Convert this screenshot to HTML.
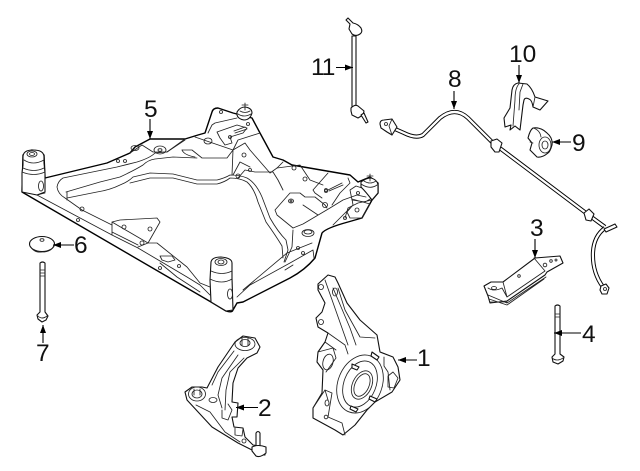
<!DOCTYPE html>
<html><head><meta charset="utf-8"><style>
html,body{margin:0;padding:0;background:#fff}
svg{display:block}
text{font-family:"Liberation Sans",sans-serif;font-size:24.500px;fill:#111}
.l{fill:#fff;stroke:#111;stroke-width:1.100;stroke-linejoin:round;stroke-linecap:round}
.t{fill:none;stroke:#222;stroke-width:.85;stroke-linejoin:round;stroke-linecap:round}
.o{fill:#fff;stroke:#000;stroke-width:1.400;stroke-linejoin:round}
.a{stroke:#000;stroke-width:1.100;fill:none}
</style></head><body>
<svg width="640" height="471" viewBox="0 0 640 471" xmlns="http://www.w3.org/2000/svg">
<defs><marker id="h" viewBox="0 0 8 6" refX="8" refY="3" markerWidth="8" markerHeight="6" markerUnits="userSpaceOnUse" orient="auto"><path d="M0 0L8 3L0 6z" fill="#000"/></marker></defs>

<!-- subframe outline -->
<path class="o" d="M22 192L211 302L226 311Q232 313 233 310L237 303L243 302L290 278Q305 270 315 258L322 233Q326 228 348 222L362 218L372 200L378 193L378 183L370 177L358 182L350 175L292 165L283 160L273 157L260 133L252 118L233 113L218 108Q213 108 212 112L205 133L198 135L185 139L150 139L135 147L130 153L107 163L45 178L44 155L32 150L23 155Z"/>
<!-- frame inner -->
<path class="t" d="M37 195L45 193M37 195L112 235L138 248L160 261L187 277L200 285L210 295"/>
<path class="t" d="M57 187Q58 181 63 178L117 167L137 162Q150 158 155 153L167 152L185 140M57 187Q58 194 65 198L82 210L112 225"/>
<path class="t" d="M66 192L100 182L120 177Q135 170 143 165Q148 160 155 159L173 157L197 158"/>
<path class="t" d="M67 192L67 200M67 198L97 192Q110 190 120 185Q128 182 133 177L150 173L173 174L197 180L217 180Q225 178 230 175Q240 175 247 178Q256 183 262 197L270 218Q278 232 286 240L288 250L284 262"/>
<path class="t" d="M130 183L150 178L173 178L197 184L217 184Q225 182 230 178Q240 178 247 182Q254 188 258 202L266 222Q276 236 282 246L283 258"/>
<!-- bracket -->
<path class="t" d="M112 235L112 222L120 220L157 218L160 222L152 236L148 243L157 243L187 267L200 283L210 287M112 222L148 243L138 247M112 232L138 245"/>
<path class="t" d="M160 263L177 277L200 292"/>
<path class="t" d="M160 256L172 256L175 260L168 262L162 260Z"/>
<!-- top centre -->
<path class="t" d="M142 145L153 152L167 152L185 139M130 153L142 145"/>
<path class="t" d="M195 137L233 150L232 175M182 150L192 150L202 158L227 158L233 150L245 143L250 150L270 173L277 168L283 162M233 150L238 140L260 133"/>
<path class="t" d="M182 150Q184 155 195 157"/>
<path class="t" d="M208 133L212 125L215 123L237 118M217 132L237 125L247 128L243 133L230 137L232 143L225 145L220 138Z"/>
<path class="t" d="M238 178L245 170L255 172L273 172L278 180L283 190M233 175L240 162L250 167"/>
<path class="t" d="M277 168L300 165L310 180L323 185M328 173L313 190L315 193L322 198M348 178L350 183L340 193L332 205"/>
<path class="t" d="M275 210L290 193L300 193L305 197L315 197L325 205L327 208M275 210L277 215L293 228"/>
<path class="t" d="M303 205L318 215M293 228L303 224L330 208L343 200L357 195L366 197"/>
<path class="t" d="M293 230L292 247L285 262M293 265L285 270M313 250L314 258M243 290L287 253L312 243M237 297L250 285L290 263L313 250"/>
<path class="t" d="M350 190L356 186L362 188L372 198L365 202L352 200ZM345 218L348 208L358 203L372 200M333 225L350 208"/>
<ellipse class="t" cx="308" cy="233" rx="6" ry="3.500"/><ellipse class="t" cx="308" cy="232" rx="4" ry="2"/>
<ellipse class="t" cx="135" cy="148" rx="4" ry="2.500"/><ellipse class="t" cx="160" cy="150" rx="6" ry="4"/><ellipse class="t" cx="160" cy="150" rx="2" ry="1.300"/>
<ellipse class="t" cx="208" cy="141" rx="4" ry="3"/><ellipse class="t" cx="291" cy="201" rx="2.500" ry="2"/><ellipse class="t" cx="291" cy="201" rx="1" ry="1"/>
<circle class="t" cx="118" cy="161" r="1.500"/><circle class="t" cx="125" cy="161" r="1.500"/><circle class="t" cx="82" cy="209" r="2"/><circle class="t" cx="78" cy="220" r="1.500"/><circle class="t" cx="124" cy="227" r="2"/><circle class="t" cx="150" cy="229" r="2"/><circle class="t" cx="142" cy="243" r="2"/><circle class="t" cx="179" cy="266" r="1.500"/><circle class="t" cx="160" cy="268" r="1.500"/><circle class="t" cx="298" cy="248" r="1.500"/><circle class="t" cx="303" cy="253" r="1.500"/><circle class="t" cx="294" cy="168" r="2"/><circle class="t" cx="305" cy="179" r="2"/><circle class="t" cx="244" cy="155" r="2"/><circle class="t" cx="238" cy="176" r="2"/><circle class="t" cx="250" cy="170" r="1.500"/><circle class="t" cx="221" cy="112" r="1.500"/><circle class="t" cx="230" cy="137" r="1.500"/><circle class="t" cx="248" cy="124" r="1.500"/><circle class="t" cx="325" cy="205" r="2.500"/><circle class="t" cx="326" cy="190" r="1.500"/>
<path class="t" d="M234 131L245 127M235 133L247 129M328 190L342 183M329 191L343 185"/><circle class="t" cx="326" cy="191" r="1.500"/>

<!-- left bush -->
<path class="l" d="M23 157Q23 150 33 150Q44 150 44 157L44 163L45 173L45 192L37 195L22 192L22 173L23 165Z"/>
<ellipse class="t" cx="32" cy="154" rx="5" ry="3"/><ellipse class="t" cx="32" cy="154" rx="2.500" ry="1.500"/>
<path class="t" d="M24 160Q33 166 44 160M23 168Q34 173 44 168M22 172Q34 177 45 172"/><ellipse class="t" cx="41" cy="186" rx="2.500" ry="5"/>
<!-- rear mount -->
<path class="l" d="M237 112Q240 107 245 107Q252 108 252 113Q250 120 244 120Q238 119 237 115Z"/>
<path class="t" d="M245 103L245 110M242 105H248M240 111Q245 114 250 111M238 114Q244 118 251 114"/>
<!-- right mount -->
<path class="l" d="M361 182Q366 178 371 178Q378 180 378 186L378 193L372 200Q366 192 361 187Z"/>
<path class="t" d="M370 174L370 181M367 176H373M364 181Q370 185 376 181M361 184Q370 190 377 185M352 199L370 204L362 218L350 218L347 212L353 205Z"/>
<circle class="t" cx="358" cy="193" r="1.500"/><circle class="t" cx="357" cy="210" r="2"/><circle class="t" cx="345" cy="218" r="1.500"/>
<!-- front bush -->
<path class="l" d="M211 262Q212 257 221 257Q232 258 232 263L232 278L233 310L226 311L211 302L210 280Z"/>
<ellipse class="t" cx="221" cy="262" rx="6" ry="3.500"/><ellipse class="t" cx="221" cy="262" rx="3" ry="2"/>
<path class="t" d="M211 271Q222 276 232 271M210 279Q222 285 232 279"/><ellipse class="t" cx="230" cy="294" rx="2.500" ry="5"/>

<!-- washer 6 -->
<ellipse class="l" cx="42" cy="244" rx="12.500" ry="7.500"/><path class="t" d="M30 246Q34 253 42 252Q52 252 54 245"/><ellipse class="t" cx="42" cy="240" rx="2" ry="1.300"/>
<!-- bolt 7 -->
<path class="l" d="M40 263L40 312L37 315L38 319L42 322L46 320L48 316L45 312L45 263Q42.500 261 40 263Z"/>
<path class="t" d="M40 270H45M40 273H45M40 276H45M38 316Q42 320 47 316"/>
<!-- bolt 4 -->
<path class="l" d="M555 306L555 354L552 357L553 362L558 364L563 361L564 357L560 354L560 306Q557.500 304 555 306Z"/>
<path class="t" d="M555 314H560M555 317H560M552 358Q557 362 563 358"/>

<!-- link 11 -->
<path class="l" d="M352 36H356V108H352Z"/>
<path class="l" d="M346 20L348 18L353 23Q358 24 361 28Q363 32 360 34Q356 37 352 34L349 29L350 24Z"/>
<path class="l" d="M351 108Q355 104 358 106L364 111L363 115L358 118L352 115L351 111Z"/>
<path class="l" d="M361 115L364 113L368 122L366 123Z"/>
<!-- bar 8 -->
<path d="M395 129L404 133Q416 139 423 135L440 118Q455 106 468 118L493 143L590 216L605 227" fill="none" stroke="#000" stroke-width="4.200"/>
<path d="M395 129L404 133Q416 139 423 135L440 118Q455 106 468 118L493 143L590 216L605 227" fill="none" stroke="#fff" stroke-width="2.300"/>
<path d="M605 228Q594 236 593 252Q592 272 603 287" fill="none" stroke="#000" stroke-width="4.200"/>
<path d="M605 228Q594 236 593 252Q592 272 603 287" fill="none" stroke="#fff" stroke-width="2.300"/>
<path class="l" d="M604 229L615 224L617 227L606 232Z"/>
<path class="l" d="M380 124Q380 120 384 120L392 119L397 127L392 135L387 132L381 128Z"/><circle class="t" cx="386" cy="124" r="1.500"/><path class="t" d="M392 119L389 126L392 135"/>
<path class="l" d="M601 286L606 284L609 288L607 294L602 294L600 290Z"/><circle class="t" cx="605" cy="289" r="1.500"/>
<path class="l" d="M491 141L497 139L502 143L499 152L495 152L491 147Z"/>
<path class="l" d="M584 213L589 209L594 214L591 221L586 220Z"/>

<!-- clamp 10 -->
<path class="l" d="M512 90Q513 84 518 83L527 84Q532 88 535 97L548 101L540 110L533 107Q532 100 529 99Q525 97 524 100L523 105L520 130L515 126L510 130L511 125L505 127L504 118L510 108Z"/>
<path class="t" d="M519 84Q515 88 515 100L513 126M523 84L520 92L519 110M535 97L533 107"/>
<!-- bushing 9 -->
<path class="l" d="M533 128Q541 127 547 133Q553 138 552 145Q550 152 548 153Q542 158 537 157L530 150L532 143L528 138Q530 130 533 128Z"/>
<ellipse class="t" cx="545" cy="145" rx="3" ry="4"/><ellipse class="t" cx="545" cy="145" rx="6" ry="8"/><path class="t" d="M533 128Q540 130 541 137M530 142L533 143"/>

<!-- bracket 3 -->
<path class="l" d="M484 286L491 282L503 282L535 258L560 256L563 263L547 272L545 275L507 301L490 303L488 296Z"/>
<path class="t" d="M488 288Q494 292 502 288L507 297M503 282L507 297L545 271L534 258M488 295L507 303L546 277M489 299L507 305L544 279M490 302L507 302"/>
<ellipse class="t" cx="494" cy="288" rx="2.500" ry="1.500"/><circle class="t" cx="519" cy="276" r="1.300"/><circle class="t" cx="545" cy="265" r="1.800"/><circle class="t" cx="551" cy="261" r="1.300"/><circle class="t" cx="556" cy="260" r="1"/>

<!-- arm 2 -->
<path class="l" d="M235 342L243 336L255 338L260 347L257 353L247 358L238 368L233 383L232 402L238 403L237 417L232 417L234 427L243 428L245 437L253 445L265 447L265 455L257 455L252 450L238 443L212 427L187 400L185 392L192 387L202 387L207 388L218 367Z"/>
<ellipse class="t" cx="245" cy="344" rx="10" ry="6.500"/><ellipse class="t" cx="245" cy="343" rx="5" ry="3.500"/>
<path class="t" d="M242 338L242 345M248 338L248 345M234 351L218 372L212 385M238 355L222 378L218 395L222 408M244 358L230 372L226 390L225 410"/>
<ellipse class="t" cx="197" cy="394" rx="8.500" ry="7"/><ellipse class="t" cx="197" cy="394" rx="5" ry="4"/><path class="t" d="M194 389V395M200 389V395"/>
<ellipse class="t" cx="213" cy="400" rx="4" ry="2.500"/><circle class="t" cx="244" cy="441" r="2"/><path class="t" d="M196 405L210 412L225 432L240 442M222 410L222 418L228 420L232 410L228 404M235 428V435L242 436L243 429"/>
<path class="l" d="M256 433Q258 430 260 433L260 446L256 446Z"/><path class="l" d="M252 447Q258 444 266 447L266 453Q260 458 256 456L252 451Z"/>

<!-- knuckle 1 -->
<path class="l" d="M318 284L328 275L335 277L338 283L347 303L360 320L377 335L380 352L393 357L398 367L400 380L392 392L375 402L367 410L355 425L343 435L335 430L313 418L313 408L322 393L323 370L317 362L318 352L325 342L328 333L318 327L316 318L322 312L325 303L318 290Z"/>
<circle class="t" cx="321" cy="287" r="2.500"/><circle class="t" cx="321" cy="322" r="2.500"/><ellipse class="t" cx="335" cy="292" rx="2.500" ry="4"/>
<path class="t" d="M325 280L348 345M333 288L350 328L356 345M338 288L345 310L360 337L375 338M328 333L345 345L348 354M325 342L336 350"/>
<ellipse class="t" cx="360" cy="384" rx="22" ry="30" transform="rotate(22 360 384)"/><ellipse class="t" cx="360" cy="384" rx="16" ry="24" transform="rotate(22 360 384)"/><ellipse class="t" cx="362" cy="385" rx="7" ry="12" transform="rotate(25 362 385)"/><ellipse class="t" cx="362" cy="385" rx="9.500" ry="15" transform="rotate(25 362 385)"/>
<ellipse class="t" cx="328" cy="362" rx="5" ry="8" transform="rotate(15 328 362)"/><path class="t" d="M318 352L333 348L336 358L326 372M325 390L332 393L328 417L342 423M313 408L325 390L328 400M342 423L345 435"/>
<path class="l" d="M372 352L379 357L377 360L371 356Z"/><path class="l" d="M352 364L359 367L357 370L352 368Z"/><path class="l" d="M370 396L377 399L375 402L369 399Z"/><path class="l" d="M351 406L358 409L356 412L350 409Z"/>
<path class="t" d="M384 357L384 366L388 372L390 390M393 372L398 378L394 388L388 387L388 376Z"/>
<ellipse class="t" cx="327" cy="403" rx="2" ry="3"/><circle class="t" cx="326" cy="417" r="1.800"/>

<!-- labels -->
<text x="144" y="117">5</text><path class="a" d="M150 119V139" marker-end="url(#h)"/>
<text x="74" y="253">6</text><path class="a" d="M74 245H53" marker-end="url(#h)"/>
<text x="36" y="361">7</text><path class="a" d="M43 343V325" marker-end="url(#h)"/>
<text x="258" y="416">2</text><path class="a" d="M258 407.500H236" marker-end="url(#h)"/>
<text x="417" y="366">1</text><path class="a" d="M417 360H398" marker-end="url(#h)"/>
<text x="530" y="236">3</text><path class="a" d="M535 239V258" marker-end="url(#h)"/>
<text x="582" y="342">4</text><path class="a" d="M581 333H554" marker-end="url(#h)"/>
<text x="572" y="151">9</text><path class="a" d="M571 142H552" marker-end="url(#h)"/>
<text x="509" y="62">10</text><path class="a" d="M519 65V83" marker-end="url(#h)"/>
<text x="448" y="87">8</text><path class="a" d="M454 91V109" marker-end="url(#h)"/>
<text x="311" y="75" letter-spacing="-1">11</text><path class="a" d="M336 67.500H353" marker-end="url(#h)"/>
</svg>
</body></html>
